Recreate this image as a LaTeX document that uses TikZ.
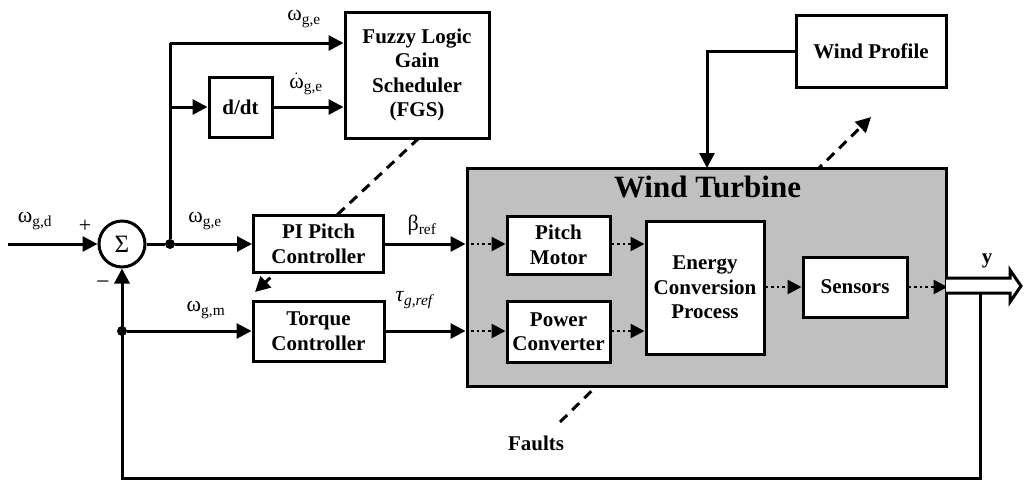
\documentclass[tikz,border=0pt]{standalone}
\usepackage{fontspec}
\setmainfont{Liberation Serif}
\usetikzlibrary{arrows.meta}
\definecolor{wtgray}{HTML}{C0C0C0}
\begin{document}
\begin{tikzpicture}[x=1pt,y=-1pt,
  blk/.style={draw, line width=3pt, fill=white, font=\fontsize{21}{24.5}\selectfont\bfseries, align=center, inner sep=0pt},
  ln/.style={line width=3pt},
  arr/.style={ln, -{Triangle[length=15pt,width=15pt]}},
  dotarr/.style={line width=2.6pt, dash pattern=on 2.6pt off 3pt, -{Triangle[length=14pt,width=14pt]}},
  dsh/.style={line width=3pt, dash pattern=on 10pt off 7pt},
  lbl/.style={font=\fontsize{22}{24}\selectfont, inner sep=0pt},
  jdot/.style={circle, fill, inner sep=0pt, minimum size=10pt}]
\useasboundingbox (0,0) rectangle (1027,483);

% dashed lines drawn first (pass behind boxes)
\coordinate (dA) at (419,138);
\coordinate (dB) at (255,292);
\draw[dsh, -{Triangle[length=15pt,width=15pt]}] (dA) -- (dB);
\coordinate (fA) at (560,422);
\coordinate (fB) at (871,117);
\draw[dsh, -{Triangle[length=15pt,width=15pt]}] (fA) -- (fB);

% wind turbine container
\node[draw, line width=3pt, fill=wtgray, minimum width=479pt, minimum height=218pt, inner sep=0pt] (WT) at (706.5,277) {};
\node[font=\fontsize{31}{31}\selectfont\bfseries, inner sep=0pt] (WTt) at (707.5,187) {Wind Turbine};

% blocks
\node[blk, minimum width=144pt, minimum height=126pt] (FGS) at (417,75) {Fuzzy Logic\\Gain\\Scheduler\\(FGS)};
\node[blk, minimum width=63pt, minimum height=60pt] (ddt) at (240.5,107) {d/dt};
\node[blk, minimum width=130pt, minimum height=57pt] (PI) at (318.5,244) {PI Pitch\\Controller};
\node[blk, minimum width=131pt, minimum height=60pt] (TC) at (318.5,331) {Torque\\Controller};
\node[blk, minimum width=103pt, minimum height=58pt] (PM) at (558.5,245) {Pitch\\Motor};
\node[blk, minimum width=103pt, minimum height=61pt] (PC) at (558.5,331.5) {Power\\Converter};
\node[blk, minimum width=118pt, minimum height=133pt] (EC) at (705,287.5) {Energy\\Conversion\\Process};
\node[blk, minimum width=104pt, minimum height=60pt] (SE) at (855,287) {Sensors};
\node[blk, minimum width=150pt, minimum height=72pt] (WP) at (871,51) {Wind Profile};

% summing junction
\node[draw, circle, line width=3pt, minimum size=46pt, inner sep=0pt] (sum) at (122,244) {\fontsize{25}{25}\selectfont Σ};

% input
\coordinate (in) at (8,244);
\draw[arr] (in) -- (sum.west);

% junctions
\node[jdot] (j1) at (170,244) {};
\coordinate (c1) at (170,43);
\draw[ln] (sum.east) -- (j1);
\draw[arr] (j1) -- (PI.west);
\draw[ln] (j1) -- (c1);
\draw[arr] (c1) -- (c1 -| FGS.west);
\draw[arr] (ddt.west -| j1) -- (ddt.west);
\draw[arr] (ddt.east) -- (ddt.east -| FGS.west);

% controllers to turbine
\draw[arr] (PI.east) -- (PI.east -| WT.west);
\draw[dotarr] (PI.east -| WT.west) -- (PI.east -| PM.west);
\draw[arr] (TC.east) -- (TC.east -| WT.west);
\draw[dotarr] (TC.east -| WT.west) -- (TC.east -| PC.west);

% inside turbine
\draw[dotarr] (PI.east -| PM.east) -- (PI.east -| EC.west);
\draw[dotarr] (TC.east -| PC.east) -- (TC.east -| EC.west);
\draw[dotarr] (SE.west -| EC.east) -- (SE.west);
\draw[dotarr] (SE.east) -- (SE.east -| WT.east);

% wind profile
\coordinate (wtin) at (707,168);
\draw[arr] (WP.west) -| (wtin);

% output hollow arrow
\draw[ln, fill=white, line join=miter] (946,278) -- (1010,278) -- (1010,270) -- (1021,286) -- (1010,302) -- (1010,293) -- (946,293);
\node[font=\fontsize{21}{21}\selectfont\bfseries, inner sep=0pt] (ylab) at (987,261) {y};

% feedback
\coordinate (fbA) at (980,293);
\coordinate (fbB) at (980,478);
\coordinate (fbC) at (122,478);
\draw[arr] (fbA) -- (fbB) -- (fbC) -- (sum.south);
\node[jdot] (j2) at (122,331) {};
\draw[arr] (j2) -- (j2 -| TC.west);

% labels
\node[lbl] (Lwd) at (35,221) {ω\textsubscript{g,d}};
\node[lbl] (Lplus) at (85,226) {+};
\node[lbl] (Lminus) at (103,285) {\fontsize{24}{24}\selectfont −};
\node[lbl] (Lwe1) at (205,221) {ω\textsubscript{g,e}};
\node[lbl] (Lwm) at (206,310) {ω\textsubscript{g,m}};
\node[lbl] (Lwe2) at (304,19) {ω\textsubscript{g,e}};
\node[lbl] (Lwe3) at (306,84) {$\dot{\mbox{ω}}$\textsubscript{g,e}};
\node[lbl] (Lbeta) at (422,225) {β\textsubscript{ref}};
\node[lbl] (Ltau) at (415,300) {\textit{τ}\textsubscript{\textit{g,ref}}};
\node[font=\fontsize{21}{21}\selectfont\bfseries, inner sep=0pt] (Lfaults) at (536,443) {Faults};
\end{tikzpicture}
\end{document}
